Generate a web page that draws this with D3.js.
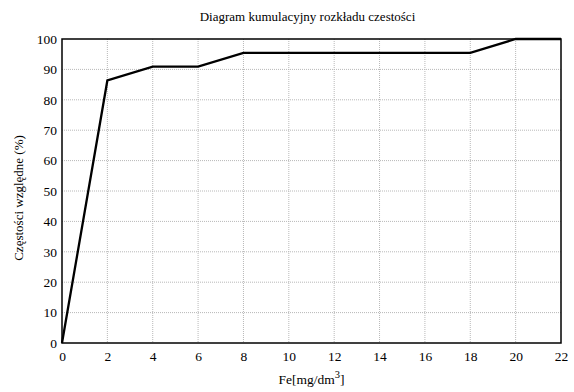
<!DOCTYPE html>
<html>
<head>
<meta charset="utf-8">
<script src="https://cdn.jsdelivr.net/npm/d3@7"></script>
<style>
  html, body { margin: 0; padding: 0; background: #fff; }
  svg text { font-family: "Liberation Serif", "Times New Roman", Times, serif; }
</style>
</head>
<body>
<svg id="chart" width="574" height="392"></svg>
<script>
// Cumulative relative frequency of Fe concentration
const feValues = [0, 2, 4, 6, 8, 10, 12, 14, 16, 18, 20, 22];
const cumulativePct = [0, 86.36, 90.91, 90.91, 95.45, 95.45, 95.45, 95.45, 95.45, 95.45, 100, 100];
const xTicks = [0, 2, 4, 6, 8, 10, 12, 14, 16, 18, 20, 22];
const yTicks = [0, 10, 20, 30, 40, 50, 60, 70, 80, 90, 100];

const svg = d3.select("#chart");
const margin = { left: 62, right: 13, top: 39, bottom: 49 };
const W = 574, H = 392;
const iw = W - margin.left - margin.right;
const ih = H - margin.top - margin.bottom;

const x = d3.scaleLinear().domain([0, 22]).range([0, iw]);
const y = d3.scaleLinear().domain([0, 100]).range([ih, 0]);

const g = svg.append("g").attr("transform", `translate(${margin.left},${margin.top})`);

// dotted grid
g.append("g").selectAll("line").data(xTicks.slice(1, -1)).join("line")
  .attr("x1", d => x(d)).attr("x2", d => x(d))
  .attr("y1", 0).attr("y2", ih)
  .attr("stroke", "#b8b8b8").attr("stroke-width", 1).attr("stroke-dasharray", "1,1");
g.append("g").selectAll("line").data(yTicks.slice(1, -1)).join("line")
  .attr("y1", d => y(d)).attr("y2", d => y(d))
  .attr("x1", 0).attr("x2", iw)
  .attr("stroke", "#b8b8b8").attr("stroke-width", 1).attr("stroke-dasharray", "1,1");

// axes (labels only)
const xAxis = g.append("g").attr("transform", `translate(0,${ih})`)
  .call(d3.axisBottom(x).tickValues(xTicks).tickSize(0).tickPadding(8));
const yAxis = g.append("g")
  .call(d3.axisLeft(y).tickValues(yTicks).tickSize(0).tickPadding(5));
[xAxis, yAxis].forEach(a => {
  a.attr("font-family", null);
  a.select(".domain").remove();
  a.selectAll("text").attr("font-size", 13.5).attr("fill", "#000");
});

// frame
g.append("rect").attr("x", 0).attr("y", 0).attr("width", iw).attr("height", ih)
  .attr("fill", "none").attr("stroke", "#000").attr("stroke-width", 1.5);

// cumulative line
const pts = feValues.map((v, i) => [v, cumulativePct[i]]);
g.append("path").datum(pts)
  .attr("fill", "none").attr("stroke", "#000").attr("stroke-width", 2.3)
  .attr("stroke-linejoin", "miter")
  .attr("d", d3.line().x(d => x(d[0])).y(d => y(d[1])));

// title
svg.append("text").attr("x", margin.left + iw / 2 - 4).attr("y", 21)
  .attr("text-anchor", "middle").attr("font-size", 13).attr("fill", "#000")
  .text("Diagram kumulacyjny rozkładu czestości");

// x label
const xl = svg.append("text").attr("x", margin.left + iw / 2).attr("y", 384)
  .attr("text-anchor", "middle").attr("font-size", 13.5).attr("fill", "#000");
xl.append("tspan").text("Fe[mg/dm");
xl.append("tspan").attr("dy", -6).attr("font-size", 10.5).text("3");
xl.append("tspan").attr("dy", 6).text("]");

// y label
svg.append("text")
  .attr("transform", `translate(23,${margin.top + ih / 2 + 7}) rotate(-90)`)
  .attr("text-anchor", "middle").attr("font-size", 13).attr("fill", "#000")
  .text("Częstości względne (%)");
</script>
</body>
</html>
